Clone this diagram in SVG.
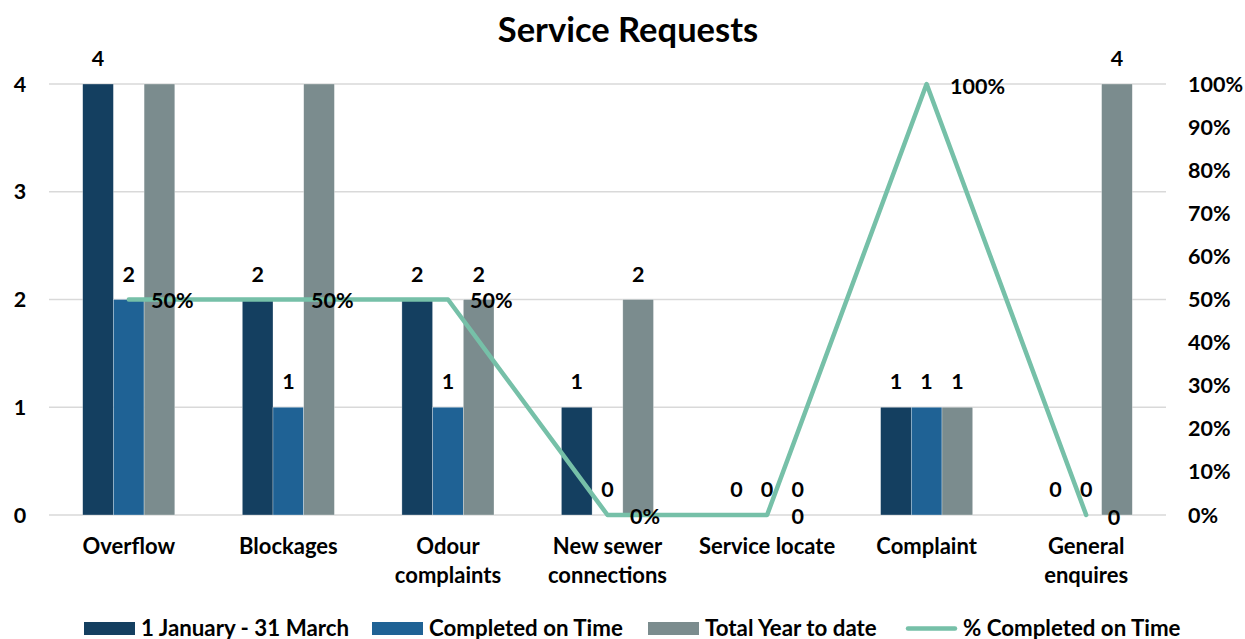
<svg xmlns="http://www.w3.org/2000/svg" width="1245" height="639" viewBox="0 0 1245 639">
<style>
text{font-family:Lato,"Liberation Sans",sans-serif;font-weight:bold;fill:#000;font-size:21.5px}
.t{font-size:34.5px}
.lg{font-size:22.3px}
.cat{font-size:22px}
.c{text-anchor:middle}
.s{text-anchor:start}
.grid{stroke:#D9D9D9;stroke-width:1.5}
.d{fill:#143F60}
.b{fill:#1F6295}
.g{fill:#7B8C8E}
.bar{stroke:#FFFFFF;stroke-width:0.6;stroke-opacity:0.5}
.ln{fill:none;stroke:#76C0A8;stroke-width:4.5;stroke-linejoin:round;stroke-linecap:round}
</style>
<rect width="1245" height="639" fill="#FFFFFF"/>
<text id="title" class="t c" x="628" y="42">Service Requests</text>
<g id="grid">
<line class="grid" x1="49" y1="84" x2="1166" y2="84"/>
<line class="grid" x1="49" y1="191.75" x2="1166" y2="191.75"/>
<line class="grid" x1="49" y1="299.5" x2="1166" y2="299.5"/>
<line class="grid" x1="49" y1="407.25" x2="1166" y2="407.25"/>
<line class="grid" x1="49" y1="515" x2="1166" y2="515"/>
</g>
<g id="axis-left" class="c">
<text x="20" y="92">4</text>
<text x="20" y="199">3</text>
<text x="20" y="307">2</text>
<text x="20" y="415">1</text>
<text x="20" y="523">0</text>
</g>
<g id="axis-right" class="s">
<text x="1188" y="92">100%</text>
<text x="1188" y="135">90%</text>
<text x="1188" y="178">80%</text>
<text x="1188" y="221">70%</text>
<text x="1188" y="264">60%</text>
<text x="1188" y="307">50%</text>
<text x="1188" y="350">40%</text>
<text x="1188" y="393">30%</text>
<text x="1188" y="436">20%</text>
<text x="1188" y="479">10%</text>
<text x="1188" y="523">0%</text>
</g>
<g id="series-period">
<rect class="d bar" x="82.7" y="84" width="30.7" height="431"/>
<rect class="d bar" x="242.3" y="299.5" width="30.7" height="215.5"/>
<rect class="d bar" x="401.9" y="299.5" width="30.7" height="215.5"/>
<rect class="d bar" x="561.4" y="407.25" width="30.7" height="107.75"/>
<rect class="d bar" x="880.6" y="407.25" width="30.7" height="107.75"/>
</g>
<g id="series-ontime">
<rect class="b bar" x="113.4" y="299.5" width="30.7" height="215.5"/>
<rect class="b bar" x="273" y="407.25" width="30.7" height="107.75"/>
<rect class="b bar" x="432.6" y="407.25" width="30.7" height="107.75"/>
<rect class="b bar" x="911.3" y="407.25" width="30.7" height="107.75"/>
</g>
<g id="series-total">
<rect class="g bar" x="144.1" y="84" width="30.7" height="431"/>
<rect class="g bar" x="303.7" y="84" width="30.7" height="431"/>
<rect class="g bar" x="463.3" y="299.5" width="30.7" height="215.5"/>
<rect class="g bar" x="622.8" y="299.5" width="30.7" height="215.5"/>
<rect class="g bar" x="942" y="407.25" width="30.7" height="107.75"/>
<rect class="g bar" x="1101.6" y="84" width="30.7" height="431"/>
</g>
<g id="connectors">
<polyline class="ln" points="128.8,299.5 288.4,299.5 448,299.5 607.5,515 767.1,515 926.6,84 1086.2,515"/>
</g>
<g id="bar-labels" class="c">
<text x="98" y="66">4</text>
<text x="128.8" y="282">2</text>
<text x="257.7" y="282">2</text>
<text x="288.4" y="389">1</text>
<text x="417.3" y="282">2</text>
<text x="448" y="389">1</text>
<text x="478.7" y="282">2</text>
<text x="576.8" y="389">1</text>
<text x="607.5" y="497">0</text>
<text x="638.2" y="282">2</text>
<text x="736.4" y="497">0</text>
<text x="767" y="497">0</text>
<text x="797.8" y="497">0</text>
<text x="896" y="389">1</text>
<text x="926.6" y="389">1</text>
<text x="957.4" y="389">1</text>
<text x="1055.6" y="497">0</text>
<text x="1086.2" y="497">0</text>
<text x="1117" y="66">4</text>
</g>
<g id="line-labels">
<text class="s" x="151" y="308">50%</text>
<text class="s" x="311" y="308">50%</text>
<text class="s" x="470" y="308">50%</text>
<text class="s" x="630" y="524">0%</text>
<text class="c" x="797.8" y="524">0</text>
<text class="s" x="950" y="94">100%</text>
<text class="c" x="1114" y="525">0</text>
</g>
<g id="categories" class="c cat">
<text class="cat" x="128.8" y="554">Overflow</text>
<text class="cat" x="288.4" y="554">Blockages</text>
<text class="cat" x="448" y="554">Odour</text>
<text class="cat" x="448" y="583">complaints</text>
<text class="cat" x="607.5" y="554">New sewer</text>
<text class="cat" x="607.5" y="583">connections</text>
<text class="cat" x="767.1" y="554">Service locate</text>
<text class="cat" x="926.6" y="554">Complaint</text>
<text class="cat" x="1086.2" y="554">General</text>
<text class="cat" x="1086.2" y="583">enquires</text>
</g>
<g id="legend">
<rect class="d" x="84" y="622" width="51" height="13"/>
<text class="s lg" x="141" y="636">1 January - 31 March</text>
<rect class="b" x="372" y="622" width="51" height="13"/>
<text class="s lg" x="429" y="636">Completed on Time</text>
<rect class="g" x="648" y="622" width="51" height="13"/>
<text class="s lg" x="705" y="636">Total Year to date</text>
<line class="ln" x1="908" y1="628.5" x2="955" y2="628.5"/>
<text class="s lg" x="963" y="636">% Completed on Time</text>
</g>
</svg>
